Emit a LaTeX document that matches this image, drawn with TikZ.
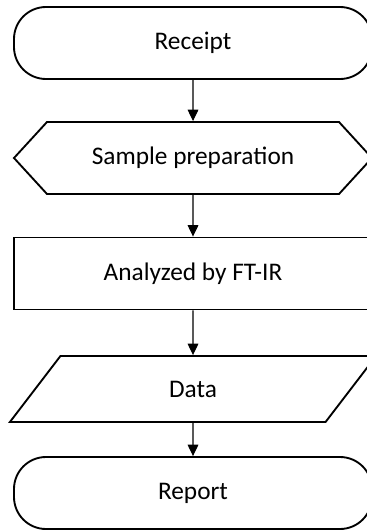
\documentclass[tikz,border=0pt]{standalone}
\usepackage{fontspec}
\setmainfont{Carlito}
\usetikzlibrary{shapes.misc,shapes.geometric,shapes.symbols,arrows.meta}
\begin{document}
\begin{tikzpicture}[x=0.75pt,y=-0.75pt,
  box/.style={draw,line width=1.4pt,minimum width=268.5pt,minimum height=54pt,inner sep=0pt,font=\fontsize{19}{21}\selectfont},
  term/.style={box,rounded corners=24pt},
  prep/.style={box,shape=signal,signal to=west and east,signal pointer angle=95},
  io/.style={box,shape=trapezium,trapezium left angle=61,trapezium right angle=119,trapezium stretches,minimum height=49.5pt,minimum width=276pt},
  flow/.style={line width=0.8pt,-{Triangle[length=8.5pt,width=8pt]}}]

\useasboundingbox (0,0) rectangle (367,532);

\node[term] (R) at (193,43) {Receipt};
\node[prep] (S) at (193,158) {Sample preparation};
\node[box] (A) at (193,273.5) {Analyzed by FT-IR};
\node[io] (D) at (193,389) {Data};
\node[term] (P) at (193,493) {Report};

\path (R) edge [flow] (S);
\path (S) edge [flow] (A);
\path (A) edge [flow] (D);
\path (D) edge [flow] (P);
\end{tikzpicture}
\end{document}
